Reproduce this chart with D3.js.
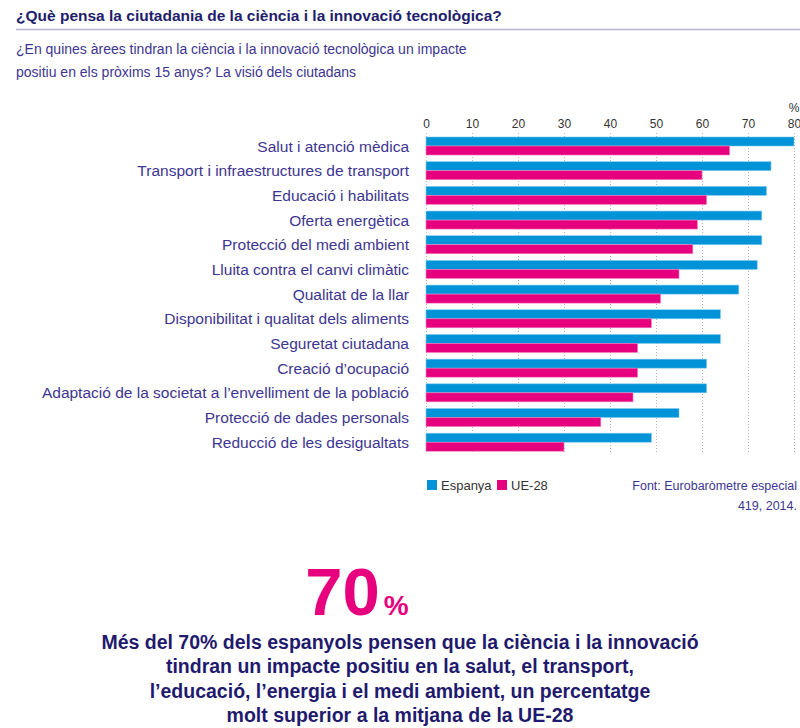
<!DOCTYPE html>
<html>
<head>
<meta charset="utf-8">
<script src="https://cdn.jsdelivr.net/npm/d3@7"></script>
<style>
  body { margin: 0; background: #fff; }
  svg { font-family: "Liberation Sans", Arial, sans-serif; }
  .cat-label { fill: #3d3591; font-size: 15.5px; }
  .axis text { fill: #333; font-size: 12px; font-family: "Liberation Sans", Arial, sans-serif; }
  .axis path, .axis line { display: none; }
  .grid line { stroke: #b5b5b5; stroke-dasharray: 1,2; }
</style>
</head>
<body>
<div class="chart"></div>
<script>
// chart data
var categories = [
  "Salut i atenció mèdica",
  "Transport i infraestructures de transport",
  "Educació i habilitats",
  "Oferta energètica",
  "Protecció del medi ambient",
  "Lluita contra el canvi climàtic",
  "Qualitat de la llar",
  "Disponibilitat i qualitat dels aliments",
  "Seguretat ciutadana",
  "Creació d’ocupació",
  "Adaptació de la societat a l’envelliment de la població",
  "Protecció de dades personals",
  "Reducció de les desigualtats"
];
var espanya = [80, 75, 74, 73, 73, 72, 68, 64, 64, 61, 61, 55, 49];
var ue28 = [66, 60, 61, 59, 58, 55, 51, 49, 46, 46, 45, 38, 30];
var xTicks = [0, 10, 20, 30, 40, 50, 60, 70, 80];
var seriesNames = ["Espanya", "UE-28"];
var seriesColors = ["#0093d8", "#e6007e"];

var width = 800, height = 728;
var margin = {top: 137, left: 426, right: 6};

var svg = d3.select(".chart").append("svg")
    .attr("width", width)
    .attr("height", height);

// title
svg.append("text")
    .attr("x", 16).attr("y", 21)
    .style("font-size", "15.5px").style("font-weight", "bold")
    .style("fill", "#221d6b")
    .text("¿Què pensa la ciutadania de la ciència i la innovació tecnològica?");
svg.append("line")
    .attr("x1", 16).attr("x2", 800)
    .attr("y1", 29.5).attr("y2", 29.5)
    .style("stroke", "#b9b5d9").style("stroke-width", 1.5);

svg.append("text")
    .attr("x", 16).attr("y", 54)
    .style("font-size", "14px").style("fill", "#3d3591")
    .text("¿En quines àrees tindran la ciència i la innovació tecnològica un impacte");
svg.append("text")
    .attr("x", 16).attr("y", 77)
    .style("font-size", "14px").style("fill", "#3d3591")
    .text("positiu en els pròxims 15 anys? La visió dels ciutadans");

// scales
var x = d3.scaleLinear().domain([0, 80]).range([margin.left, width - margin.right]);
var y = d3.scaleBand().domain(categories)
    .range([margin.top, margin.top + 24.17 * categories.length])
    .paddingInner(0.27).paddingOuter(0);
var sub = d3.scaleBand().domain(seriesNames).range([0, y.bandwidth()]);

// grid
svg.append("g")
    .attr("class", "grid")
    .selectAll("line")
    .data(xTicks)
    .join("line")
    .attr("x1", function(d) { return x(d) + 0.5; })
    .attr("x2", function(d) { return x(d) + 0.5; })
    .attr("y1", 133)
    .attr("y2", 453);

// x axis on top
svg.append("g")
    .attr("class", "axis")
    .attr("transform", "translate(0, 137)")
    .call(d3.axisTop(x).tickValues(xTicks).tickSize(0).tickPadding(9));

svg.append("text")
    .attr("x", x(80)).attr("y", 112)
    .attr("text-anchor", "middle")
    .style("font-size", "12px").style("fill", "#333")
    .text("%");

// bars
var rows = svg.append("g").selectAll("g")
    .data(categories)
    .join("g")
    .attr("transform", function(d) { return "translate(0," + y(d) + ")"; });

rows.append("rect")
    .attr("x", x(0))
    .attr("y", sub("Espanya"))
    .attr("height", sub.bandwidth())
    .attr("width", function(d, i) { return x(espanya[i]) - x(0); })
    .style("fill", seriesColors[0])
    .style("stroke", "#7fcaf0").style("stroke-width", 0.6);

rows.append("rect")
    .attr("x", x(0))
    .attr("y", sub("UE-28"))
    .attr("height", sub.bandwidth())
    .attr("width", function(d, i) { return x(ue28[i]) - x(0); })
    .style("fill", seriesColors[1])
    .style("stroke", "#f27fbe").style("stroke-width", 0.6);

rows.append("text")
    .attr("class", "cat-label")
    .attr("x", 409)
    .attr("y", y.bandwidth() / 2)
    .attr("dy", "0.36em")
    .attr("text-anchor", "end")
    .text(function(d) { return d; });

// legend
var legend = svg.append("g").attr("transform", "translate(427, 480)");
var legX = [0, 70];
seriesNames.forEach(function(name, i) {
    legend.append("rect")
        .attr("x", legX[i]).attr("y", 0)
        .attr("width", 10).attr("height", 10)
        .style("fill", seriesColors[i]);
    legend.append("text")
        .attr("x", legX[i] + 14).attr("y", 10)
        .style("font-size", "13px").style("fill", "#333")
        .text(name);
});

// source
svg.append("text")
    .attr("x", 797).attr("y", 490)
    .attr("text-anchor", "end")
    .style("font-size", "12.5px").style("fill", "#3d3591")
    .text("Font: Eurobaròmetre especial");
svg.append("text")
    .attr("x", 797).attr("y", 510)
    .attr("text-anchor", "end")
    .style("font-size", "12.5px").style("fill", "#3d3591")
    .text("419, 2014.");

// big number
var big = svg.append("text")
    .attr("x", 357).attr("y", 615)
    .attr("text-anchor", "middle")
    .style("fill", "#e6007e").style("font-weight", "bold");
big.append("tspan").style("font-size", "67px").text("70");
big.append("tspan").style("font-size", "28px").attr("dx", 4).text("%");

var para = [
  "Més del 70% dels espanyols pensen que la ciència i la innovació",
  "tindran un impacte positiu en la salut, el transport,",
  "l’educació, l’energia i el medi ambient, un percentatge",
  "molt superior a la mitjana de la UE-28"
];
svg.append("g").selectAll("text")
    .data(para)
    .join("text")
    .attr("x", 400)
    .attr("y", function(d, i) { return 649 + i * 24.3; })
    .attr("text-anchor", "middle")
    .style("font-size", "19.5px").style("font-weight", "bold")
    .style("fill", "#1f1a6e")
    .text(function(d) { return d; });
</script>
</body>
</html>
